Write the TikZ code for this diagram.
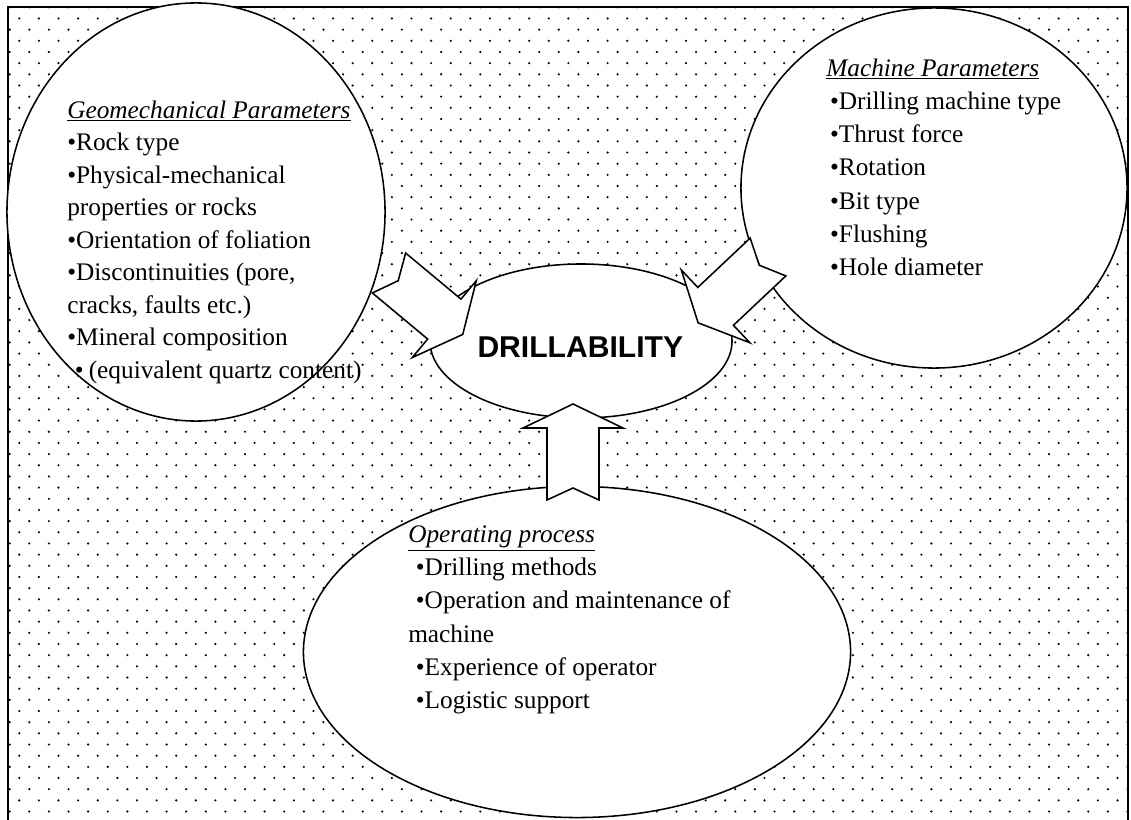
\documentclass[tikz,border=0pt]{standalone}
\usepackage{fontspec}
\setmainfont{Liberation Serif}
\newfontfamily\headfont{Liberation Sans}
\usetikzlibrary{positioning,shapes.geometric}

\tikzset{
  bubble/.style={draw, ellipse, fill=white, line width=1.1pt, inner sep=0pt},
  bodytext/.style={align=left, anchor=north west, inner sep=0pt,
    font=\fontsize{18}{23.6}\selectfont},
  pics/fatarrow/.style={code={
    \draw[fill=white, line width=1.1pt, line join=miter]
      (12,0) -- (0,26) -- (72,26) -- (72,50) -- (96,0)
      -- (72,-50) -- (72,-26) -- (0,-26) -- cycle;
  }}
}

\begin{document}
\begin{tikzpicture}[x=0.025cm, y=-0.025cm]
\useasboundingbox (0,0) rectangle (1131,820);

% dotted background
\begin{scope}
  \clip (8,0) rectangle (1129,820);
  \foreach \k in {0,...,72}{
    \pgfmathsetmacro\dy{7.3+11.17*\k}
    \pgfmathsetmacro\dx{mod(\k,2)==0 ? 9.7 : 19.3}
    \foreach \j in {0,...,57}
      \fill (\dx+19.61*\j,\dy) circle[radius=0.85pt];
  }
\end{scope}
\draw[line width=1.3pt] (8,820) -- (8,7) -- (1128,7) -- (1128,820);

% the four bubbles
\node[bubble, minimum width=9.45cm, minimum height=10.45cm] (geo) at (196,212) {};
\node[bubble, minimum width=9.65cm, minimum height=9cm] (machine) at (934,188) {};
\node[bubble, minimum width=7.55cm, minimum height=3.85cm] (drill) at (581,341) {};
\node[bubble, minimum width=13.675cm, minimum height=8.275cm] (operating) at (577,652) {};

% texts
\node[bodytext, font=\fontsize{18}{23.1}\selectfont] (geotext) at (67,100.5) {%
  \underline{\textit{Geomechanical Parameters}}\\
  •Rock type\\
  •Physical-mechanical\\
  properties or rocks\\
  •Orientation of foliation\\
  •Discontinuities (pore,\\
  cracks, faults etc.)\\
  •Mineral composition\\
  \hspace*{0.3em}•\hspace*{0.2em}(equivalent quartz content)};
\node[bodytext] (machinetext) at (826,58.5) {%
  \underline{\textit{Machine Parameters}}\\
  \hspace*{0.15em}•Drilling machine type\\
  \hspace*{0.15em}•Thrust force\\
  \hspace*{0.15em}•Rotation\\
  \hspace*{0.15em}•Bit type\\
  \hspace*{0.15em}•Flushing\\
  \hspace*{0.15em}•Hole diameter};
\node[bodytext] (operatingtext) at (408,525.5) {%
  \underline{\textit{Operating process}}\\
  \hspace*{0.3em}•Drilling methods\\
  \hspace*{0.3em}•Operation and maintenance of\\
  machine\\
  \hspace*{0.3em}•Experience of operator\\
  \hspace*{0.3em}•Logistic support};
\node[inner sep=0pt, font=\headfont\bfseries\fontsize{21.4}{24}\selectfont]
  (drilltext) at (580.3,346.7) {DRILLABILITY};

% block arrows into the centre
\coordinate (geotail) at (389,273);
\coordinate (machinetail) at (768,257);
\coordinate (operatingtail) at (573,500);
\pic[rotate=-39.8] at (geotail) {fatarrow};
\pic[rotate=-136.7] at (machinetail) {fatarrow};
\pic[rotate=90] at (operatingtail) {fatarrow};
\end{tikzpicture}
\end{document}
